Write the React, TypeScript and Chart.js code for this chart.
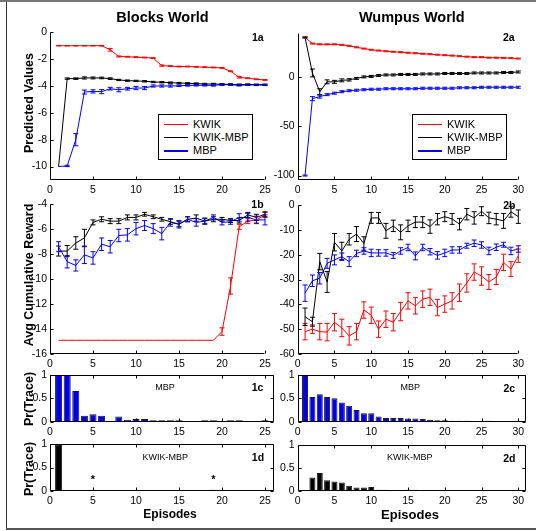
import React, { useEffect, useRef } from 'react';
import { Chart, registerables } from 'chart.js';
Chart.register(...registerables);

// ---------------- DATA ----------------
const SERIES_LABELS = ['KWIK', 'KWIK-MBP', 'MBP'];
const SERIES_COLORS = ['#ff0000', '#000000', '#0000ff'];

const EPISODES_BW = [1, 2, 3, 4, 5, 6, 7, 8, 9, 10, 11, 12, 13, 14, 15, 16, 17, 18, 19, 20, 21, 22, 23, 24, 25];
const EPISODES_WW = [1, 2, 3, 4, 5, 6, 7, 8, 9, 10, 11, 12, 13, 14, 15, 16, 17, 18, 19, 20, 21, 22, 23, 24, 25, 26, 27, 28, 29, 30];

// 1a Blocks World predicted values
const bwKwikPred = [-1.0, -1.0, -1.0, -1.0, -1.0, -1.0, -1.3, -1.8, -1.82, -1.85, -1.88, -1.92, -2.48, -2.52, -2.55, -2.55, -2.57, -2.6, -2.62, -2.65, -2.9, -3.35, -3.42, -3.5, -3.55];
const bwKwikPredErr = [0.02, 0.02, 0.02, 0.02, 0.02, 0.02, 0.1, 0.04, 0.03, 0.03, 0.03, 0.03, 0.05, 0.03, 0.03, 0.03, 0.03, 0.03, 0.03, 0.03, 0.03, 0.06, 0.03, 0.03, 0.03];
const bwKwikMbpPred = [-10, -3.45, -3.45, -3.4, -3.4, -3.4, -3.45, -3.55, -3.6, -3.62, -3.65, -3.7, -3.72, -3.75, -3.78, -3.8, -3.82, -3.85, -3.85, -3.87, -3.88, -3.9, -3.9, -3.92, -3.92];
const bwKwikMbpPredErr = [0, 0.05, 0.06, 0.08, 0.07, 0.06, 0.06, 0.05, 0.05, 0.05, 0.05, 0.05, 0.05, 0.05, 0.05, 0.05, 0.05, 0.05, 0.05, 0.05, 0.05, 0.05, 0.05, 0.05, 0.05];
const bwMbpPred = [-10, -9.95, -8.0, -4.45, -4.4, -4.42, -4.2, -4.28, -4.2, -4.15, -4.15, -4.0, -4.0, -4.0, -3.98, -3.95, -3.95, -3.95, -3.95, -3.9, -3.9, -3.95, -3.9, -3.9, -3.9];
const bwMbpPredErr = [0, 0.05, 0.45, 0.15, 0.12, 0.15, 0.1, 0.15, 0.1, 0.12, 0.12, 0.08, 0.08, 0.08, 0.06, 0.06, 0.05, 0.05, 0.06, 0.05, 0.05, 0.05, 0.05, 0.04, 0.04];

// 2a Wumpus World predicted values
const wwKwikPred = [40, 33.8, 33, 33, 33, 32.5, 31.5, 30, 28.7, 27.5, 26.7, 26, 25.5, 25, 24.5, 24, 23.5, 23, 22.5, 22, 21.6, 21, 20.5, 20, 20, 19.5, 19.5, 19.3, 19, 18.6];
const wwKwikPredErr = [0.5, 0.5, 0.5, 0.5, 0.5, 0.5, 0.5, 0.5, 0.5, 0.5, 0.5, 0.5, 0.5, 0.5, 0.5, 0.5, 0.5, 0.5, 0.5, 0.5, 0.5, 0.5, 0.5, 0.5, 0.5, 0.5, 0.5, 0.5, 0.5, 0.5];
const wwKwikMbpPred = [40, 4, -15, -5, -5, -3.5, -3, -1.5, 0, 0.5, 1.5, 2, 2, 2.5, 2.5, 2.5, 3, 3, 3, 3.5, 3.5, 3.5, 3.5, 4, 4, 4, 4, 4.5, 4.5, 5];
const wwKwikMbpPredErr = [0.5, 4, 3, 2, 1.5, 1.5, 1.2, 1, 1, 1, 1, 1, 1, 1, 1, 1, 1, 1, 1, 1, 1, 1, 1, 1, 1, 1, 1, 1, 1, 1];
const wwMbpPred = [-100, -22, -20, -18, -16.5, -15, -14, -13.5, -13, -12.5, -12.5, -12, -12, -12, -12, -12, -11.5, -11.5, -11.5, -11.5, -11.5, -11, -11, -11, -10.5, -10.5, -10.5, -10.5, -10.5, -10.5];
const wwMbpPredErr = [0.5, 2, 1.5, 1, 1, 1, 1, 1, 1, 1, 1, 1, 1, 1, 1, 1, 1, 1, 1, 1, 1, 1, 1, 1, 1, 1, 1, 1, 1, 1];

// 1b Blocks World avg cumulative reward
const bwKwikRew = [-14.9, -14.9, -14.9, -14.9, -14.9, -14.9, -14.9, -14.9, -14.9, -14.9, -14.9, -14.9, -14.9, -14.9, -14.9, -14.9, -14.9, -14.9, -14.9, -14.2, -10.55, -5.8, -5.35, -5.25, -4.85];
const bwKwikRewErr = [0, 0, 0, 0, 0, 0, 0, 0, 0, 0, 0, 0, 0, 0, 0, 0, 0, 0, 0, 0.3, 0.65, 0.2, 0.2, 0.25, 0.2];
const bwKwikMbpRew = [-7.75, -7.75, -7.1, -6.7, -5.45, -5.2, -5.35, -5.35, -5.05, -5.05, -4.8, -5.0, -5.2, -5.4, -5.6, -5.2, -5.1, -5.35, -5.2, -5.2, -5.3, -5.3, -4.85, -5.05, -4.8];
const bwKwikMbpRewErr = [0.4, 0.45, 0.5, 0.7, 0.2, 0.2, 0.2, 0.2, 0.2, 0.2, 0.15, 0.15, 0.15, 0.2, 0.2, 0.2, 0.25, 0.25, 0.2, 0.15, 0.15, 0.2, 0.2, 0.25, 0.2];
const bwMbpRew = [-7.4, -8.6, -8.9, -8.05, -8.3, -7.2, -7.4, -6.5, -6.45, -5.95, -5.7, -5.95, -6.35, -5.45, -5.6, -5.2, -5.45, -5.35, -5.05, -5.45, -5.4, -5.05, -5.05, -5.25, -5.25];
const bwMbpRewErr = [0.4, 0.5, 0.45, 0.7, 0.5, 0.5, 0.5, 0.5, 0.5, 0.5, 0.4, 0.4, 0.5, 0.3, 0.3, 0.2, 0.3, 0.2, 0.2, 0.2, 0.2, 0.3, 0.3, 0.3, 0.4];

// 2b Wumpus World avg cumulative reward
const wwKwikRew = [-51, -50, -51, -51.2, -47.2, -49.5, -52.7, -51, -42.3, -44.4, -50, -46, -47.2, -42.9, -38.6, -40.6, -37.9, -37.2, -41.3, -39.9, -38.6, -35.3, -31.4, -27, -28.6, -31, -29, -23.1, -25.8, -20.4];
const wwKwikRewErr = [3.3, 1.7, 3.3, 3.5, 3.5, 3.5, 3.7, 3.3, 3.3, 3.3, 3.3, 3.3, 3.5, 3.7, 3.3, 3.3, 3.3, 3.3, 3.3, 3.3, 3.3, 3.5, 3.7, 3.3, 3.7, 3, 3, 3.3, 3, 2.7];
const wwKwikMbpRew = [-45, -47, -22.8, -31, -15, -18.5, -13.8, -11.7, -15.5, -5.2, -5.2, -10.4, -8.4, -11, -8.4, -6.9, -6.9, -8.7, -5.7, -4.7, -5.6, -7.7, -3.7, -5.2, -2.5, -5.2, -5.7, -6.4, -2.7, -4.7];
const wwKwikMbpRewErr = [3.5, 1.8, 3.3, 4.2, 3.5, 3.5, 2.3, 3, 2.7, 2.2, 2.2, 3, 2.3, 3, 2.3, 2.2, 2.2, 2.7, 2.3, 2, 2.2, 2.3, 2.3, 2.5, 1.8, 2.3, 2.3, 3, 2.2, 2.7];
const wwMbpRew = [-35.5, -30.5, -29.5, -23.5, -22.1, -20.8, -22.8, -19.5, -18.5, -19.3, -19.3, -19.3, -20.3, -18.5, -17.1, -20.5, -17.1, -18.8, -20.3, -19.3, -18.1, -18.1, -16.4, -15.4, -16.1, -18.5, -17, -16, -18.5, -17.7];
const wwMbpRewErr = [3.3, 2.3, 2.3, 2, 2, 1.5, 2, 1.3, 1.3, 1.5, 1.3, 1.3, 1.2, 1.3, 1.3, 1.6, 1.3, 1.3, 1.5, 1.5, 1.3, 1.3, 1, 1.3, 1.3, 1.5, 1.3, 1, 1.5, 1.3];

// 1c / 1d / 2c / 2d Pr(Trace)
const bwMbpTrace = [1, 1, 0.66, 0.13, 0.16, 0.13, 0, 0.11, 0.04, 0.06, 0.06, 0.03, 0.03, 0.03, 0.03, 0, 0, 0.03, 0.03, 0, 0.03, 0.03, 0, 0, 0.03];
const bwKwikMbpTrace = [1, 0, 0, 0, 0.02, 0, 0, 0, 0, 0, 0, 0, 0, 0, 0, 0, 0, 0, 0.02, 0, 0, 0, 0, 0, 0];
const bwStarEpisodes = [5, 19];
const wwMbpTrace = [1, 0.53, 0.59, 0.53, 0.5, 0.41, 0.34, 0.25, 0.18, 0.18, 0.11, 0.08, 0.08, 0.08, 0.07, 0.07, 0.06, 0.04, 0.03, 0.03, 0.02, 0.02, 0.02, 0.01, 0.01, 0.02, 0.01, 0.01, 0.01, 0.01];
const wwKwikMbpTrace = [0, 0.29, 0.39, 0.23, 0.2, 0.18, 0.11, 0.07, 0.07, 0.08, 0.02, 0.02, 0.01, 0.01, 0.02, 0.02, 0, 0.01, 0.01, 0.01, 0.01, 0, 0, 0, 0, 0, 0, 0, 0, 0];

// tick labels
const X_TICKS_BW = [0, 5, 10, 15, 20, 25];
const X_TICKS_WW = [0, 5, 10, 15, 20, 25, 30];
const Y_TICKS_1A = [-10, -8, -6, -4, -2, 0];
const Y_TICKS_2A = [-100, -50, 0];
const Y_TICKS_1B = [-16, -14, -12, -10, -8, -6, -4];
const Y_TICKS_2B = [-60, -50, -40, -30, -20, -10, 0];
const Y_TICKS_TRACE = [0, 0.5, 1];

// ---------------- RENDERING ----------------
const TEXT_FONT = "'Liberation Sans', Arial, Helvetica, sans-serif";

const matlabPlugin = {
  id: 'matlab',
  afterDatasetsDraw(chart: any, _args: any, opts: any) {
    const ctx = chart.ctx;
    const xs = chart.scales.x;
    const ys = chart.scales.y;
    const errs: (number[] | null)[] = opts.errs || [];
    errs.forEach((e, di) => {
      if (!e) return;
      const ds = chart.data.datasets[di];
      ctx.save();
      ctx.strokeStyle = ds.borderColor;
      ctx.lineWidth = 1;
      ds.data.forEach((pt: any, i: number) => {
        const ev = e[i];
        if (!ev) return;
        const px = xs.getPixelForValue(pt.x);
        const y1 = ys.getPixelForValue(pt.y - ev);
        const y2 = ys.getPixelForValue(pt.y + ev);
        ctx.beginPath();
        ctx.moveTo(px, y1); ctx.lineTo(px, y2);
        ctx.moveTo(px - 2.5, y1); ctx.lineTo(px + 2.5, y1);
        ctx.moveTo(px - 2.5, y2); ctx.lineTo(px + 2.5, y2);
        ctx.stroke();
      });
      ctx.restore();
    });
    const stars: number[] = opts.stars || [];
    if (stars.length) {
      ctx.save();
      ctx.fillStyle = '#000';
      ctx.font = `bold 11px ${TEXT_FONT}`;
      ctx.textAlign = 'center';
      ctx.textBaseline = 'middle';
      stars.forEach((sx) => {
        ctx.fillText('*', xs.getPixelForValue(sx), ys.getPixelForValue(0) - 11);
      });
      ctx.restore();
    }
  },
  afterDraw(chart: any, _args: any, opts: any) {
    const ctx = chart.ctx;
    const { left, right, top, bottom } = chart.chartArea;
    const xs = chart.scales.x;
    const ys = chart.scales.y;
    const L = Math.round(left) + 0.5;
    const R = Math.round(right) - 0.5;
    const T = Math.round(top) + 0.5;
    const B = Math.round(bottom) - 0.5;
    ctx.save();
    ctx.strokeStyle = '#000';
    ctx.lineWidth = 1;
    ctx.beginPath();
    ctx.moveTo(L, T); ctx.lineTo(L, B); ctx.lineTo(R, B);
    if (opts.box) { ctx.lineTo(R, T); ctx.lineTo(L, T); }
    const tl = 3;
    (opts.xTicks || []).forEach((v: number) => {
      const px = Math.round(xs.getPixelForValue(v)) + 0.5;
      ctx.moveTo(px, B); ctx.lineTo(px, B - tl);
      if (opts.box) { ctx.moveTo(px, T); ctx.lineTo(px, T + tl); }
    });
    (opts.yTicks || []).forEach((v: number) => {
      const py = Math.round(ys.getPixelForValue(v)) + 0.5;
      ctx.moveTo(L, py); ctx.lineTo(L + tl, py);
      if (opts.box) { ctx.moveTo(R, py); ctx.lineTo(R - tl, py); }
    });
    ctx.stroke();
    ctx.restore();
  },
};

type Series = { label: string; values: number[]; err?: number[]; color: string };
type PanelSpec = {
  kind: 'line' | 'bar';
  left: number; right: number; top: number; bottom: number;
  xMin: number; xMax: number; yMin: number; yMax: number;
  xTicks: number[]; yTicks: number[];
  box: boolean;
  x: number[];
  series: Series[];
  stars?: number[];
};

const PL = 46, PR = 16, PT = 10, PB = 20;

function Panel({ spec }: { spec: PanelSpec }) {
  const ref = useRef<HTMLCanvasElement>(null);
  const cl = Math.floor(spec.left - PL);
  const ct = Math.floor(spec.top - PT);
  const cr = Math.ceil(spec.right + PR);
  const cb = Math.ceil(spec.bottom + PB);
  const W = cr - cl;
  const H = cb - ct;
  useEffect(() => {
    if (!ref.current) return;
    const AW = spec.left - cl;
    const padT = spec.top - ct;
    const padR = cr - spec.right;
    const AH = cb - spec.bottom;
    const datasets = spec.series.map((s) => {
      const data = s.values.map((v, i) => ({ x: spec.x[i], y: v }));
      if (spec.kind === 'bar') {
        return {
          label: s.label, data,
          backgroundColor: s.color, borderColor: '#1a1a1a', borderWidth: 1,
          barPercentage: 1, categoryPercentage: 0.82,
        } as any;
      }
      return {
        label: s.label, data,
        borderColor: s.color, backgroundColor: s.color,
        borderWidth: 1, pointRadius: 0, tension: 0, fill: false,
      } as any;
    });
    const tickFont = { family: TEXT_FONT, size: 10.5 };
    const chart = new Chart(ref.current, {
      type: spec.kind,
      data: { datasets },
      options: {
        responsive: false,
        animation: false,
        events: [],
        layout: { padding: { left: 0, right: padR, top: padT, bottom: 0 } },
        plugins: {
          legend: { display: false },
          tooltip: { enabled: false },
          matlab: {
            box: spec.box,
            xTicks: spec.xTicks,
            yTicks: spec.yTicks,
            errs: spec.series.map((s) => s.err || null),
            stars: spec.stars || [],
          },
        } as any,
        scales: {
          x: {
            type: 'linear', min: spec.xMin, max: spec.xMax, offset: false,
            grid: { display: false, drawTicks: false, offset: false },
            border: { display: false },
            ticks: { padding: 4, font: tickFont, color: '#000', maxRotation: 0, autoSkip: false, callback: (v: any) => String(v) },
            afterBuildTicks: (s: any) => { s.ticks = spec.xTicks.map((v) => ({ value: v })); },
            afterFit: (s: any) => { s.height = AH; },
          },
          y: {
            type: 'linear', min: spec.yMin, max: spec.yMax,
            grid: { display: false, drawTicks: false },
            border: { display: false },
            ticks: { padding: 3, font: tickFont, color: '#000', autoSkip: false, callback: (v: any) => String(v) },
            afterBuildTicks: (s: any) => { s.ticks = spec.yTicks.map((v) => ({ value: v })); },
            afterFit: (s: any) => { s.width = AW; },
          },
        } as any,
      },
      plugins: [matlabPlugin as any],
    });
    return () => chart.destroy();
  }, []);
  return (
    <canvas
      ref={ref}
      width={W}
      height={H}
      style={{ position: 'absolute', left: cl, top: ct, width: W, height: H }}
    />
  );
}

const line3 = (vals: number[][], errs: number[][]): Series[] =>
  SERIES_LABELS.map((label, i) => ({ label, values: vals[i], err: errs[i], color: SERIES_COLORS[i] }));

const PANELS: PanelSpec[] = [
  {
    kind: 'line', left: 50, right: 265, top: 32.3, bottom: 180,
    xMin: 0, xMax: 25, yMin: -11, yMax: 0, xTicks: X_TICKS_BW, yTicks: Y_TICKS_1A, box: false,
    x: EPISODES_BW,
    series: line3([bwKwikPred, bwKwikMbpPred, bwMbpPred], [bwKwikPredErr, bwKwikMbpPredErr, bwMbpPredErr]),
  },
  {
    kind: 'line', left: 297.7, right: 518.3, top: 33, bottom: 180,
    xMin: 0, xMax: 30, yMin: -104.5, yMax: 44.5, xTicks: X_TICKS_WW, yTicks: Y_TICKS_2A, box: false,
    x: EPISODES_WW,
    series: line3([wwKwikPred, wwKwikMbpPred, wwMbpPred], [wwKwikPredErr, wwKwikMbpPredErr, wwMbpPredErr]),
  },
  {
    kind: 'line', left: 50, right: 265, top: 204.3, bottom: 354,
    xMin: 0, xMax: 25, yMin: -16, yMax: -4, xTicks: X_TICKS_BW, yTicks: Y_TICKS_1B, box: false,
    x: EPISODES_BW,
    series: line3([bwKwikRew, bwKwikMbpRew, bwMbpRew], [bwKwikRewErr, bwKwikMbpRewErr, bwMbpRewErr]),
  },
  {
    kind: 'line', left: 297.7, right: 518.3, top: 205, bottom: 354,
    xMin: 0, xMax: 30, yMin: -60, yMax: 0, xTicks: X_TICKS_WW, yTicks: Y_TICKS_2B, box: false,
    x: EPISODES_WW,
    series: line3([wwKwikRew, wwKwikMbpRew, wwMbpRew], [wwKwikRewErr, wwKwikMbpRewErr, wwMbpRewErr]),
  },
  {
    kind: 'bar', left: 50, right: 273.6, top: 375, bottom: 421.7,
    xMin: 0, xMax: 26, yMin: 0, yMax: 1, xTicks: X_TICKS_BW, yTicks: Y_TICKS_TRACE, box: true,
    x: EPISODES_BW,
    series: [{ label: 'MBP', values: bwMbpTrace, color: '#0000f0' }],
  },
  {
    kind: 'bar', left: 50, right: 273.6, top: 444.3, bottom: 490.7,
    xMin: 0, xMax: 26, yMin: 0, yMax: 1, xTicks: X_TICKS_BW, yTicks: Y_TICKS_TRACE, box: true,
    x: EPISODES_BW,
    series: [{ label: 'KWIK-MBP', values: bwKwikMbpTrace, color: '#000000' }],
    stars: bwStarEpisodes,
  },
  {
    kind: 'bar', left: 297.7, right: 525.7, top: 375, bottom: 421.7,
    xMin: 0, xMax: 31, yMin: 0, yMax: 1, xTicks: X_TICKS_WW, yTicks: Y_TICKS_TRACE, box: true,
    x: EPISODES_WW,
    series: [{ label: 'MBP', values: wwMbpTrace, color: '#0000f0' }],
  },
  {
    kind: 'bar', left: 297.7, right: 525.7, top: 445, bottom: 490.7,
    xMin: 0, xMax: 31, yMin: 0, yMax: 1, xTicks: X_TICKS_WW, yTicks: Y_TICKS_TRACE, box: true,
    x: EPISODES_WW,
    series: [{ label: 'KWIK-MBP', values: wwKwikMbpTrace, color: '#000000' }],
  },
];

function Txt({ x, y, text, size, bold, rotate }: { x: number; y: number; text: string; size: number; bold?: boolean; rotate?: boolean }) {
  return (
    <div
      style={{
        position: 'absolute', left: x, top: y,
        transform: `translate(-50%, -50%)${rotate ? ' rotate(-90deg)' : ''}`,
        whiteSpace: 'nowrap', lineHeight: 1,
        fontFamily: TEXT_FONT, fontSize: size, fontWeight: bold ? 'bold' : 'normal', color: '#000',
      }}
    >
      {text}
    </div>
  );
}

function Legend({ left, top }: { left: number; top: number }) {
  return (
    <div
      style={{
        position: 'absolute', left, top, width: 95, height: 46,
        border: '1px solid #000', background: '#fff', boxSizing: 'border-box',
      }}
    >
      {SERIES_LABELS.map((lab, i) => (
        <div key={lab} style={{ position: 'absolute', left: 0, top: 9.5 + i * 13.2, height: 0 }}>
          <div style={{ position: 'absolute', left: 5, top: -0.5, width: 24, height: 1.2, background: SERIES_COLORS[i] }} />
          <div
            style={{
              position: 'absolute', left: 34, top: -6.5, lineHeight: '13px', whiteSpace: 'nowrap',
              fontFamily: TEXT_FONT, fontSize: 11, color: '#000',
            }}
          >
            {lab}
          </div>
        </div>
      ))}
    </div>
  );
}

export default function App() {
  return (
    <div style={{ position: 'fixed', left: 0, top: 0, width: 536, height: 531, background: '#fff', overflow: 'hidden' }}>
      {/* frame */}
      <div style={{ position: 'absolute', left: 0, top: 0, width: 536, height: 2, background: '#777' }} />
      <div style={{ position: 'absolute', left: 6, top: 2, width: 1, height: 527, background: '#333' }} />
      <div style={{ position: 'absolute', left: 6, top: 528, width: 530, height: 1.5, background: '#555' }} />

      {PANELS.map((p, i) => (
        <Panel key={i} spec={p} />
      ))}

      <Legend left={158} top={114} />
      <Legend left={412} top={114} />

      <Txt x={162.5} y={16.7} text="Blocks World" size={14.5} bold />
      <Txt x={411.8} y={16.7} text="Wumpus World" size={14.5} bold />

      <Txt x={29.2} y={102.5} text="Predicted Values" size={12.5} bold rotate />
      <Txt x={29.2} y={275} text="Avg Cumulative Reward" size={12.5} bold rotate />
      <Txt x={29.2} y={399} text="Pr(Trace)" size={12.5} bold rotate />
      <Txt x={29.2} y={469} text="Pr(Trace)" size={12.5} bold rotate />

      <Txt x={170} y={514} text="Episodes" size={12} bold />
      <Txt x={410} y={514} text="Episodes" size={13} bold />

      <Txt x={257.8} y={36.7} text="1a" size={10.5} bold />
      <Txt x={508.8} y={36.7} text="2a" size={10.5} bold />
      <Txt x={257.5} y={203.5} text="1b" size={10.5} bold />
      <Txt x={509.3} y={204.7} text="2b" size={10.5} bold />
      <Txt x={257.5} y={386.7} text="1c" size={10.5} bold />
      <Txt x={258} y={456.7} text="1d" size={10.5} bold />
      <Txt x={509.3} y={388.3} text="2c" size={10.5} bold />
      <Txt x={509.3} y={457.7} text="2d" size={10.5} bold />

      <Txt x={165} y={386.7} text="MBP" size={9} />
      <Txt x={165.3} y={457.3} text="KWIK-MBP" size={9} />
      <Txt x={410.2} y={387.3} text="MBP" size={9} />
      <Txt x={409.7} y={456.7} text="KWIK-MBP" size={9} />
    </div>
  );
}
